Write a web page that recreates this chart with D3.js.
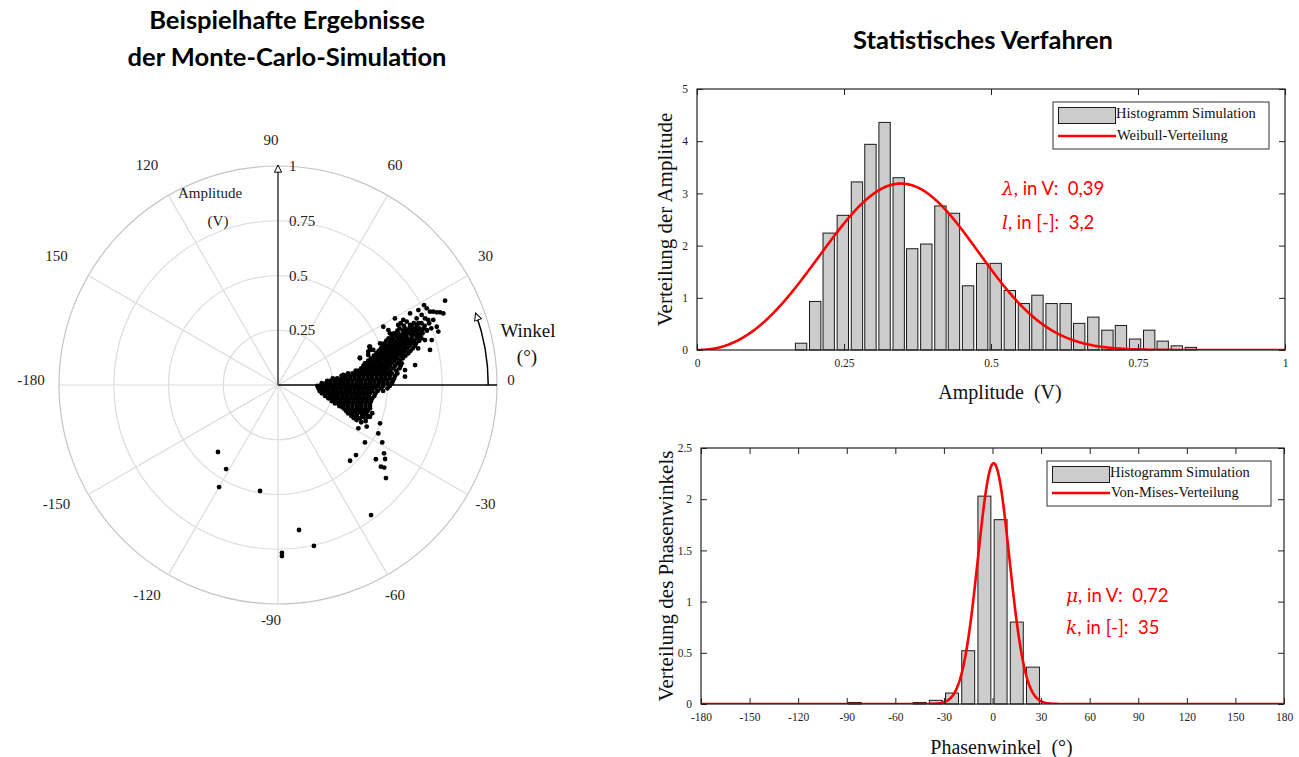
<!DOCTYPE html>
<html>
<head>
<meta charset="utf-8">
<script src="https://cdn.jsdelivr.net/npm/d3@7"></script>
<style>
  body { margin: 0; background: #fff; }
  svg { display: block; }
  .serif { font-family: "Liberation Serif", "Times New Roman", serif; }
  .sans { font-family: Lato, "Open Sans", sans-serif; }
  .pre { white-space: pre; }
</style>
</head>
<body>
<svg id="chart" width="1299" height="757"></svg>
<script>
// ---------- Polar scatter: Monte-Carlo phasors (real / imaginary part in V) ----------
const amplitudeRings = [0.25, 0.5, 0.75, 1];
const angleTickValues = [0, 30, 60, 90, 120, 150, -180, -150, -120, -90, -60, -30];

// dense core of the cloud, row by row: [imaginary part, [real parts]]
const clusterRows = [
  [0.282, [0.560, 0.620, 0.655, 0.690]],
  [0.270, [0.575, 0.610, 0.635, 0.670]],
  [0.259, [0.555, 0.580, 0.600, 0.625, 0.645, 0.665, 0.700]],
  [0.248, [0.545, 0.570, 0.590, 0.612, 0.635, 0.655, 0.680]],
  [0.236, [0.530, 0.550, 0.575, 0.600, 0.620, 0.640, 0.660]],
  [0.225, [0.520, 0.540, 0.562, 0.585, 0.610, 0.630, 0.650]],
  [0.213, [0.505, 0.525, 0.550, 0.570, 0.590, 0.610, 0.635, 0.655]],
  [0.202, [0.495, 0.518, 0.540, 0.560, 0.580, 0.600, 0.622, 0.645]],
  [0.190, [0.485, 0.510, 0.530, 0.550, 0.570, 0.590, 0.610, 0.630]],
  [0.179, [0.478, 0.500, 0.520, 0.540, 0.560, 0.580, 0.600, 0.625]],
  [0.167, [0.470, 0.490, 0.510, 0.530, 0.550, 0.570, 0.590, 0.615, 0.640]],
  [0.156, [0.460, 0.480, 0.500, 0.520, 0.540, 0.560, 0.580, 0.605]],
  [0.145, [0.450, 0.470, 0.490, 0.510, 0.530, 0.550, 0.570, 0.595]],
  [0.134, [0.438, 0.458, 0.478, 0.498, 0.518, 0.538, 0.560, 0.582]],
  [0.122, [0.425, 0.445, 0.465, 0.485, 0.505, 0.525, 0.545, 0.570]],
  [0.111, [0.412, 0.432, 0.452, 0.472, 0.492, 0.512, 0.532, 0.556]],
  [0.099, [0.400, 0.420, 0.440, 0.460, 0.480, 0.500, 0.520, 0.545, 0.565]],
  [0.088, [0.390, 0.410, 0.430, 0.450, 0.470, 0.490, 0.510, 0.535, 0.560]],
  [0.076, [0.380, 0.400, 0.420, 0.440, 0.460, 0.480, 0.500, 0.525, 0.555]],
  [0.065, [0.355, 0.370, 0.390, 0.410, 0.430, 0.450, 0.470, 0.490, 0.512, 0.540]],
  [0.053, [0.320, 0.340, 0.360, 0.380, 0.400, 0.420, 0.440, 0.460, 0.480, 0.500, 0.520, 0.545]],
  [0.042, [0.290, 0.310, 0.330, 0.350, 0.370, 0.390, 0.410, 0.430, 0.450, 0.470, 0.490, 0.510, 0.535]],
  [0.030, [0.250, 0.270, 0.290, 0.310, 0.330, 0.350, 0.370, 0.390, 0.410, 0.430, 0.450, 0.470, 0.490, 0.510, 0.530]],
  [0.019, [0.225, 0.240, 0.260, 0.280, 0.300, 0.320, 0.340, 0.360, 0.380, 0.400, 0.420, 0.440, 0.460, 0.480, 0.500, 0.525]],
  [0.008, [0.200, 0.220, 0.240, 0.260, 0.280, 0.300, 0.320, 0.340, 0.360, 0.380, 0.400, 0.420, 0.440, 0.460, 0.480, 0.500, 0.520]],
  [-0.004, [0.180, 0.195, 0.215, 0.235, 0.255, 0.275, 0.295, 0.315, 0.335, 0.355, 0.375, 0.395, 0.415, 0.435, 0.455, 0.480, 0.510]],
  [-0.015, [0.185, 0.205, 0.225, 0.245, 0.265, 0.285, 0.305, 0.325, 0.345, 0.365, 0.385, 0.405, 0.425, 0.445, 0.470, 0.500]],
  [-0.027, [0.190, 0.210, 0.230, 0.250, 0.270, 0.290, 0.310, 0.330, 0.350, 0.370, 0.390, 0.410, 0.430, 0.455, 0.480]],
  [-0.038, [0.200, 0.220, 0.240, 0.260, 0.280, 0.300, 0.320, 0.340, 0.360, 0.380, 0.400, 0.420, 0.445]],
  [-0.050, [0.215, 0.235, 0.255, 0.275, 0.295, 0.315, 0.335, 0.355, 0.375, 0.395, 0.415, 0.440]],
  [-0.061, [0.230, 0.250, 0.270, 0.290, 0.310, 0.330, 0.350, 0.370, 0.390, 0.410, 0.430]],
  [-0.073, [0.245, 0.265, 0.285, 0.305, 0.325, 0.345, 0.365, 0.385, 0.405, 0.425]],
  [-0.084, [0.260, 0.280, 0.300, 0.320, 0.340, 0.360, 0.380, 0.400, 0.420]],
  [-0.096, [0.280, 0.300, 0.320, 0.340, 0.360, 0.380, 0.400, 0.420]],
  [-0.107, [0.300, 0.320, 0.340, 0.360, 0.380, 0.400, 0.420]],
  [-0.118, [0.310, 0.330, 0.350, 0.370, 0.390, 0.410]],
  [-0.129, [0.320, 0.340, 0.360, 0.380, 0.400, 0.430]],
  [-0.141, [0.335, 0.360, 0.385, 0.410]],
  [-0.152, [0.350, 0.375, 0.400]]
];

// individual points around the core and the outliers: [real, imaginary]
const looseEdgePoints = [
  [0.763, 0.385], [0.667, 0.365], [0.679, 0.350], [0.694, 0.335], [0.709, 0.335],
  [0.725, 0.332], [0.740, 0.332], [0.755, 0.327], [0.641, 0.342], [0.656, 0.320],
  [0.603, 0.327], [0.633, 0.304], [0.671, 0.304], [0.686, 0.297], [0.709, 0.297],
  [0.725, 0.266], [0.732, 0.244], [0.534, 0.304], [0.572, 0.297], [0.588, 0.289],
  [0.549, 0.274], [0.603, 0.274], [0.641, 0.282], [0.618, 0.251], [0.656, 0.251],
  [0.679, 0.251], [0.481, 0.266], [0.504, 0.251], [0.511, 0.236], [0.565, 0.228],
  [0.588, 0.236], [0.633, 0.228], [0.671, 0.205], [0.694, 0.160], [0.702, 0.205],
  [0.626, 0.091], [0.580, 0.068], [0.580, 0.038], [0.420, 0.160], [0.412, 0.137],
  [0.374, 0.122], [0.397, 0.099], [0.489, 0.183], [0.504, 0.160], [0.473, 0.076],
  [0.344, 0.046], [0.306, 0.030], [0.283, 0.015], [0.420, 0.175], [0.435, 0.160],
  [0.412, 0.152], [0.466, 0.190], [0.451, 0.137], [0.298, 0.046], [0.374, 0.125],
  [0.417, 0.175]
];
const lowerBranchPoints = [
  [0.420, -0.145], [0.405, -0.190], [0.367, -0.198], [0.466, -0.175], [0.458, -0.221],
  [0.476, -0.262], [0.397, -0.262], [0.356, -0.320], [0.329, -0.346], [0.447, -0.339],
  [0.484, -0.312], [0.489, -0.338], [0.470, -0.373], [0.485, -0.377], [0.493, -0.425],
  [0.291, -0.099], [0.321, -0.122], [0.336, -0.129], [0.352, -0.145], [0.359, -0.160],
  [0.390, -0.145], [0.405, -0.122], [0.275, -0.084], [0.253, -0.053], [0.380, -0.170],
  [0.400, -0.165], [0.345, -0.150], [0.411, -0.145]
];
const outlierPoints = [
  [-0.274, -0.306], [-0.237, -0.384], [-0.269, -0.466], [-0.082, -0.484],
  [0.096, -0.662], [0.164, -0.735], [0.018, -0.767], [0.018, -0.781], [0.425, -0.594]
];

// ---------- Amplitude histogram + Weibull fit ----------
const ampBinCenters = [0.177, 0.201, 0.224, 0.248, 0.272, 0.295, 0.319, 0.343, 0.366, 0.390,
  0.414, 0.437, 0.461, 0.485, 0.508, 0.532, 0.556, 0.579, 0.603, 0.627,
  0.650, 0.674, 0.698, 0.721, 0.745, 0.769, 0.792, 0.816, 0.840];
const ampDensity = [0.13, 0.93, 2.24, 2.58, 3.22, 3.94, 4.36, 3.30, 1.94, 2.03,
  2.76, 2.62, 1.23, 1.66, 1.66, 1.14, 0.89, 1.05, 0.89, 0.89,
  0.51, 0.63, 0.38, 0.47, 0.21, 0.38, 0.17, 0.08, 0.05];
const weibullLambda = 0.39;
const weibullShape = 3.2;
const ampTicksX = [0, 0.25, 0.5, 0.75, 1];
const ampTicksY = [0, 1, 2, 3, 4, 5];

// ---------- Phase histogram + von Mises fit ----------
const phaseBinCenters = [-85, -45, -35, -25, -15, -5, 5, 15, 25];
const phaseDensity = [0.015, 0.015, 0.036, 0.107, 0.52, 2.03, 1.80, 0.80, 0.36];
const vonMisesMu = 0.72;    // degrees
const vonMisesKappa = 35;
const phaseTicksX = [-180, -150, -120, -90, -60, -30, 0, 30, 60, 90, 120, 150, 180];
const phaseTicksY = [0, 0.5, 1, 1.5, 2, 2.5];

const svg = d3.select("#chart");
const defs = svg.append("defs");

// open arrow head used on the polar axes
defs.append("marker")
  .attr("id", "openHead")
  .attr("viewBox", "0 0 10 10")
  .attr("refX", 9).attr("refY", 5)
  .attr("markerWidth", 9).attr("markerHeight", 9)
  .attr("markerUnits", "userSpaceOnUse")
  .attr("orient", "auto")
  .append("path")
  .attr("d", "M1,1 L9,5 L1,9 Z")
  .attr("fill", "#fff").attr("stroke", "#000").attr("stroke-width", 1.1);

// ================= Titles =================
const titleSize = 25.5;
svg.append("text").attr("class", "sans")
  .attr("x", 287).attr("y", 29).attr("text-anchor", "middle")
  .attr("font-size", titleSize).attr("font-weight", 700)
  .text("Beispielhafte Ergebnisse");
svg.append("text").attr("class", "sans")
  .attr("x", 287).attr("y", 66).attr("text-anchor", "middle")
  .attr("font-size", titleSize).attr("font-weight", 700)
  .text("der Monte-Carlo-Simulation");
svg.append("text").attr("class", "sans")
  .attr("x", 983).attr("y", 49).attr("text-anchor", "middle")
  .attr("font-size", titleSize).attr("font-weight", 700)
  .text("Statistisches Verfahren");

// ================= Polar chart =================
const cx = 278, cy = 385, R = 219;
const rScale = d3.scaleLinear().domain([0, 1]).range([0, R]);
const xP = d3.scaleLinear().domain([-1, 1]).range([cx - R, cx + R]);
const yP = d3.scaleLinear().domain([-1, 1]).range([cy + R, cy - R]);
const toRad = d => d * Math.PI / 180;

const polar = svg.append("g");

// rings
polar.selectAll("circle.ring").data(amplitudeRings).join("circle")
  .attr("class", "ring")
  .attr("cx", cx).attr("cy", cy)
  .attr("r", d => rScale(d))
  .attr("fill", "none")
  .attr("stroke", d => d === 1 ? "#c4c4c4" : "#dcdcdc")
  .attr("stroke-width", 1.2);

// spokes every 30 degrees (0 and 90 are drawn as axes)
polar.selectAll("line.spoke").data(angleTickValues.filter(a => a !== 0 && a !== 90)).join("line")
  .attr("class", "spoke")
  .attr("x1", cx).attr("y1", cy)
  .attr("x2", d => cx + rScale(1) * Math.cos(toRad(d)))
  .attr("y2", d => cy - rScale(1) * Math.sin(toRad(d)))
  .attr("stroke", "#dcdcdc").attr("stroke-width", 1.2);

// angle labels
polar.selectAll("text.angle").data(angleTickValues).join("text")
  .attr("class", "angle serif")
  .attr("x", d => cx + (240 + 9 * Math.abs(Math.sin(2 * toRad(d)))) * Math.cos(toRad(d)) - 7)
  .attr("y", d => cy - (240 + 9 * Math.abs(Math.sin(2 * toRad(d)))) * Math.sin(toRad(d)) - 5)
  .attr("text-anchor", "middle").attr("dominant-baseline", "central")
  .attr("font-size", 15).attr("fill", "#222")
  .text(d => d);

// horizontal (0 deg) axis
polar.append("line")
  .attr("x1", cx).attr("y1", cy)
  .attr("x2", cx + rScale(1)).attr("y2", cy)
  .attr("stroke", "#000").attr("stroke-width", 1.5);

// amplitude axis with arrow
polar.append("line")
  .attr("x1", cx).attr("y1", cy)
  .attr("x2", cx).attr("y2", cy - rScale(1) - 1)
  .attr("stroke", "#444").attr("stroke-width", 1.6)
  .attr("marker-end", "url(#openHead)");

// amplitude tick labels
polar.selectAll("text.amp").data(amplitudeRings).join("text")
  .attr("class", "amp serif")
  .attr("x", cx + 11)
  .attr("y", d => cy - rScale(d))
  .attr("dominant-baseline", "central")
  .attr("font-size", 15).attr("fill", "#222")
  .text(d => d);

polar.append("text").attr("class", "serif")
  .attr("x", 210).attr("y", 193).attr("text-anchor", "middle").attr("dominant-baseline", "central")
  .attr("font-size", 15).attr("fill", "#222").text("Amplitude");
polar.append("text").attr("class", "serif")
  .attr("x", 218).attr("y", 221).attr("text-anchor", "middle").attr("dominant-baseline", "central")
  .attr("font-size", 15).attr("fill", "#222").text("(V)");

// angle direction arc
const arcR = rScale(0.96), arcEnd = toRad(20);
polar.append("path")
  .attr("d", `M${cx + arcR},${cy} A${arcR},${arcR} 0 0 0 ${cx + arcR * Math.cos(arcEnd)},${cy - arcR * Math.sin(arcEnd)}`)
  .attr("fill", "none").attr("stroke", "#000").attr("stroke-width", 1.5)
  .attr("marker-end", "url(#openHead)");

polar.append("text").attr("class", "serif")
  .attr("x", 528).attr("y", 330).attr("text-anchor", "middle").attr("dominant-baseline", "central")
  .attr("font-size", 19).attr("fill", "#111").text("Winkel");
polar.append("text").attr("class", "serif")
  .attr("x", 527).attr("y", 356).attr("text-anchor", "middle").attr("dominant-baseline", "central")
  .attr("font-size", 19).attr("fill", "#111").text("(°)");

// scatter
const clusterPoints = clusterRows.flatMap(([im, res]) => res.map(re => [re, im]));
const allPoints = [...clusterPoints, ...looseEdgePoints, ...lowerBranchPoints, ...outlierPoints];
polar.selectAll("circle.pt").data(allPoints).join("circle")
  .attr("class", "pt")
  .attr("cx", d => xP(d[0])).attr("cy", d => yP(d[1]))
  .attr("r", 2.4).attr("fill", "#000");

// ================= Histogram helper =================
function histogramPanel(opts) {
  const { left, right, top, bottom, xDomain, yDomain, xTicks, yTicks,
          centers, values, binFraction, curve, xLabel, yLabel, legendBox,
          legendCurveName, annot, xLabelY, yLabelX } = opts;
  const g = svg.append("g");
  const x = d3.scaleLinear().domain(xDomain).range([left, right]);
  const y = d3.scaleLinear().domain(yDomain).range([bottom, top]);
  const clipId = "clip" + Math.round(left) + Math.round(top);
  defs.append("clipPath").attr("id", clipId).append("rect")
    .attr("x", left).attr("y", top).attr("width", right - left).attr("height", bottom - top);

  const step = d3.min(d3.pairs(centers), p => p[1] - p[0]);
  const bw = step * binFraction;

  g.selectAll("rect.bar").data(centers).join("rect")
    .attr("class", "bar")
    .attr("x", d => x(d - bw / 2))
    .attr("width", d => x(d + bw / 2) - x(d - bw / 2))
    .attr("y", (d, i) => y(values[i]))
    .attr("height", (d, i) => y(0) - y(values[i]))
    .attr("fill", "#cccccc").attr("stroke", "#1a1a1a").attr("stroke-width", 1);

  g.append("path")
    .datum(curve)
    .attr("clip-path", `url(#${clipId})`)
    .attr("d", d3.line().x(d => x(d[0])).y(d => y(d[1])))
    .attr("fill", "none").attr("stroke", "#ff0000").attr("stroke-width", 2.6);

  // inward ticks on all four sides
  const fmt = d => String(d);
  const axB = g.append("g").attr("transform", `translate(0,${bottom})`)
    .call(d3.axisBottom(x).tickValues(xTicks).tickSize(-6).tickPadding(9).tickFormat(fmt));
  const axT = g.append("g").attr("transform", `translate(0,${top})`)
    .call(d3.axisTop(x).tickValues(xTicks).tickSize(-6).tickFormat(""));
  const axL = g.append("g").attr("transform", `translate(${left},0)`)
    .call(d3.axisLeft(y).tickValues(yTicks).tickSize(-6).tickPadding(9).tickFormat(fmt));
  const axR = g.append("g").attr("transform", `translate(${right},0)`)
    .call(d3.axisRight(y).tickValues(yTicks).tickSize(-6).tickFormat(""));
  [axB, axT, axL, axR].forEach(a => {
    a.select(".domain").remove();
    a.selectAll("line").attr("stroke", "#222");
    a.selectAll("text").attr("class", "serif").attr("font-size", 11.5).attr("fill", "#222");
  });
  g.append("rect").attr("x", left).attr("y", top)
    .attr("width", right - left).attr("height", bottom - top)
    .attr("fill", "none").attr("stroke", "#222").attr("stroke-width", 1.2);

  g.append("text").attr("class", "serif pre")
    .attr("x", (left + right) / 2 + 9).attr("y", xLabelY)
    .attr("text-anchor", "middle").attr("dominant-baseline", "central")
    .attr("font-size", 20).attr("fill", "#111").text(xLabel);
  g.append("text").attr("class", "serif")
    .attr("transform", `translate(${yLabelX},${(top + bottom) / 2}) rotate(-90)`)
    .attr("text-anchor", "middle").attr("dominant-baseline", "central")
    .attr("font-size", 21).attr("fill", "#111").text(yLabel);

  // legend
  const [lx, ly, lw, lh] = legendBox;
  const lg = g.append("g");
  lg.append("rect").attr("x", lx).attr("y", ly).attr("width", lw).attr("height", lh)
    .attr("fill", "#fff").attr("stroke", "#333").attr("stroke-width", 1);
  lg.append("rect").attr("x", lx + 5.5).attr("y", ly + 5.5).attr("width", 57).attr("height", 16)
    .attr("fill", "#cccccc").attr("stroke", "#1a1a1a").attr("stroke-width", 1);
  lg.append("text").attr("class", "serif").attr("x", lx + 63).attr("y", ly + 16)
    .attr("font-size", 14.5).attr("fill", "#111").text("Histogramm Simulation");
  lg.append("line").attr("x1", lx + 5).attr("x2", lx + 63)
    .attr("y1", ly + lh - 13).attr("y2", ly + lh - 13)
    .attr("stroke", "#ff0000").attr("stroke-width", 2.6);
  lg.append("text").attr("class", "serif").attr("x", lx + 64).attr("y", ly + lh - 9)
    .attr("font-size", 14.5).attr("fill", "#111").text(legendCurveName);

  // parameter annotation
  annot.lines.forEach((ln, i) => {
    const t = g.append("text").attr("class", "sans pre")
      .attr("x", annot.x).attr("y", annot.y + i * annot.gap)
      .attr("font-size", 18.5).attr("fill", "#ff0000");
    t.append("tspan").attr("font-style", "italic")
      .attr("font-family", "'DejaVu Serif', serif").text(ln[0]);
    t.append("tspan").text(ln[1]);
  });
}

// Weibull density from the stated parameters
const weibullCurve = d3.range(0, 1.0001, 0.002).map(v => {
  const z = v / weibullLambda;
  const f = (weibullShape / weibullLambda) * Math.pow(z, weibullShape - 1) * Math.exp(-Math.pow(z, weibullShape));
  return [v, f];
});

histogramPanel({
  left: 697, right: 1285, top: 89, bottom: 350,
  xDomain: [0, 1], yDomain: [0, 5], xTicks: ampTicksX, yTicks: ampTicksY,
  centers: ampBinCenters, values: ampDensity, binFraction: 0.84,
  curve: weibullCurve,
  xLabel: "Amplitude  (V)", yLabel: "Verteilung der Amplitude",
  xLabelY: 392, yLabelX: 665,
  legendBox: [1053, 102, 216, 47], legendCurveName: "Weibull-Verteilung",
  annot: { x: 1002, y: 195, gap: 34, lines: [["λ", ", in V:  0,39"], ["l", ", in [-]:  3,2"]] }
});

// von Mises density (per radian) from the stated parameters, plotted over degrees
const vmUnnorm = t => Math.exp(vonMisesKappa * (Math.cos(t - toRad(vonMisesMu)) - 1));
const vmNorm = d3.sum(d3.range(-Math.PI, Math.PI, 2 * Math.PI / 4000), t => vmUnnorm(t)) * (2 * Math.PI / 4000);
const vonMisesCurve = d3.range(-180, 180.001, 0.5).map(deg => [deg, vmUnnorm(toRad(deg)) / vmNorm]);

histogramPanel({
  left: 701, right: 1284, top: 448, bottom: 704,
  xDomain: [-180, 180], yDomain: [0, 2.5], xTicks: phaseTicksX, yTicks: phaseTicksY,
  centers: phaseBinCenters, values: phaseDensity, binFraction: 0.8,
  curve: vonMisesCurve,
  xLabel: "Phasenwinkel  (°)", yLabel: "Verteilung des Phasenwinkels",
  xLabelY: 747, yLabelX: 666,
  legendBox: [1047, 461, 224, 45], legendCurveName: "Von-Mises-Verteilung",
  annot: { x: 1066, y: 602, gap: 32, lines: [["μ", ", in V:  0,72"], ["k", ", in [-]:  35"]] }
});
</script>
</body>
</html>
